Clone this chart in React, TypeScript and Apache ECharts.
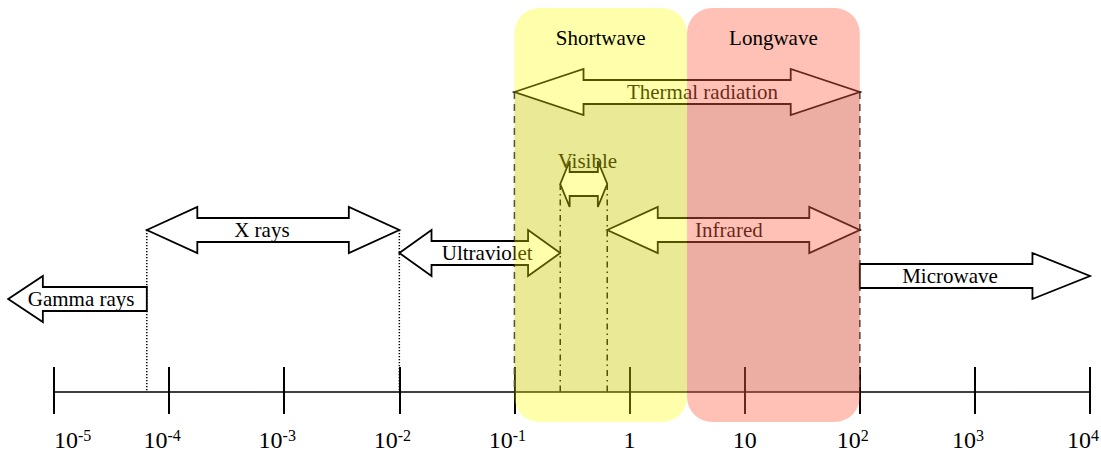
import React, { useEffect, useRef } from 'react';
import * as echarts from 'echarts';

// ---- data (wavelength in micrometres, log scale) ----
const axisMin = 1e-5;
const axisMax = 1e4;

const arrowNames = ['Gamma rays', 'X rays', 'Ultraviolet', 'Visible', 'Infrared', 'Thermal radiation', 'Microwave'];
const arrowFrom = [4e-6, 6.4e-5, 1e-2, 0.25, 0.64, 0.1, 100];
const arrowTo = [6.4e-5, 1e-2, 0.25, 0.64, 100, 100, 1e4];
const arrowRow = [93, 162, 139, 208, 162, 300, 116];
const arrowKind = ['left', 'both', 'both', 'both', 'both', 'both', 'right'];
const labelAtX = [1.72e-5, 6.4e-4, 0.058, 0.43, 7.3, 4.3, 608];
const labelAtY = [93, 162, 139, 231, 162, 300, 116];

const guideX = [6.4e-5, 1e-2, 0.25, 0.64, 0.1, 100];
const guideTop = [162, 162, 208, 208, 300, 300];
const guideKind = ['dotted', 'dotted', 'dashdot', 'dashdot', 'dashed', 'dashed'];

const thermalZone = [0.1, 100, 300];

const bandNames = ['Shortwave', 'Longwave'];
const bandFrom = [0.1, 3.16];
const bandTo = [3.16, 100];

// ---- layout / style constants ----
const BAND_TOP = 384;
const BAND_BOTTOM = -30;
const HEADER_ROW = 354;
const SHAFT = 12;
const HEAD = 23;
const FONT = '"Liberation Serif", "Times New Roman", serif';
const bandColors = ['rgba(255,255,0,0.33)', 'rgba(255,99,71,0.4)'];
const dashes: Record<string, number[]> = {
  dotted: [1.2, 1.8],
  dashdot: [6, 4, 1.5, 4],
  dashed: [7, 5],
};

function arrowPoints(kind: string, x1: number, x2: number, c: number) {
  const L = x2 - x1;
  if (kind === 'both') {
    const h = 0.2 * L;
    return [
      [x1, c], [x1 + h, c - HEAD], [x1 + h, c - SHAFT], [x2 - h, c - SHAFT], [x2 - h, c - HEAD],
      [x2, c], [x2 - h, c + HEAD], [x2 - h, c + SHAFT], [x1 + h, c + SHAFT], [x1 + h, c + HEAD],
    ];
  }
  const h = 0.25 * L;
  if (kind === 'left') {
    return [
      [x1, c], [x1 + h, c - HEAD], [x1 + h, c - SHAFT], [x2, c - SHAFT],
      [x2, c + SHAFT], [x1 + h, c + SHAFT], [x1 + h, c + HEAD],
    ];
  }
  return [
    [x1, c - SHAFT], [x2 - h, c - SHAFT], [x2 - h, c - HEAD], [x2, c],
    [x2 - h, c + HEAD], [x2 - h, c + SHAFT], [x1, c + SHAFT],
  ];
}

function tickLabel(v: number) {
  const e = Math.round(Math.log10(v));
  if (e === 0) return '{b|1}';
  if (e === 1) return '{b|10}';
  return `{b|10}{s|${e}}`;
}

const baseAxis = {
  type: 'log',
  logBase: 10,
  min: axisMin,
  max: axisMax,
  splitNumber: 9,
  splitLine: { show: false },
  minorTick: { show: false },
};

const gridBox = { left: 54, right: 11, top: 0, bottom: 63, containLabel: false, outerBoundsMode: 'none' };

const option: any = {
  animation: false,
  backgroundColor: '#ffffff',
  grid: [{ ...gridBox }, { ...gridBox }],
  xAxis: [
    {
      ...baseAxis,
      gridIndex: 0,
      axisLine: { show: true, lineStyle: { color: '#000', width: 1.5 } },
      axisTick: { show: true, length: 22, lineStyle: { color: '#000', width: 2 } },
      axisLabel: {
        show: true,
        margin: 35,
        color: '#000',
        fontFamily: FONT,
        alignMinLabel: 'left',
        showMinLabel: true,
        showMaxLabel: true,
        formatter: tickLabel,
        rich: {
          b: { fontSize: 24, fontFamily: FONT, color: '#000', lineHeight: 26 },
          s: { fontSize: 16, fontFamily: FONT, color: '#000', verticalAlign: 'top', lineHeight: 12, padding: [0, 14, 0, 0] },
        },
      },
    },
    {
      ...baseAxis,
      gridIndex: 1,
      axisLine: { show: false },
      axisTick: { show: true, inside: true, length: 25, lineStyle: { color: '#000', width: 2 } },
      axisLabel: { show: false },
    },
  ],
  yAxis: [
    { type: 'value', min: 0, max: 392, show: false, gridIndex: 0 },
    { type: 'value', min: 0, max: 392, show: false, gridIndex: 1 },
  ],
  series: [
    {
      type: 'custom',
      name: 'thermalZone',
      z: 1,
      data: [thermalZone],
      renderItem: (params: any, api: any) => {
        const p1 = api.coord([api.value(0), api.value(2)]);
        const p2 = api.coord([api.value(1), 0]);
        return {
          type: 'rect',
          shape: { x: p1[0], y: p1[1], width: p2[0] - p1[0], height: p2[1] - p1[1] },
          style: { fill: 'rgba(0,0,0,0.12)' },
        };
      },
    },
    {
      type: 'custom',
      name: 'guides',
      z: 2,
      data: guideX.map((x, i) => [x, guideTop[i]]),
      renderItem: (params: any, api: any) => {
        const i = params.dataIndex;
        const p1 = api.coord([api.value(0), api.value(1)]);
        const p2 = api.coord([api.value(0), 0]);
        return {
          type: 'line',
          shape: { x1: p1[0], y1: p1[1], x2: p2[0], y2: p2[1] },
          style: { stroke: guideKind[i] === 'dashed' ? '#333' : '#000', lineWidth: 1.5, lineDash: dashes[guideKind[i]] },
        };
      },
    },
    {
      type: 'custom',
      name: 'arrows',
      z: 3,
      data: arrowFrom.map((f, i) => [f, arrowTo[i], arrowRow[i], labelAtX[i], labelAtY[i]]),
      renderItem: (params: any, api: any) => {
        const i = params.dataIndex;
        const a = api.coord([api.value(0), api.value(2)]);
        const b = api.coord([api.value(1), api.value(2)]);
        const t = api.coord([api.value(3), api.value(4)]);
        return {
          type: 'group',
          children: [
            {
              type: 'polygon',
              shape: { points: arrowPoints(arrowKind[i], a[0], b[0], a[1]) },
              style: { fill: '#fff', stroke: '#000', lineWidth: 1.8, lineJoin: 'miter' },
            },
            {
              type: 'text',
              x: t[0],
              y: t[1],
              style: {
                text: arrowNames[i],
                fill: '#000',
                fontSize: 21,
                fontFamily: FONT,
                align: 'center',
                verticalAlign: 'middle',
              },
            },
          ],
        };
      },
    },
    {
      type: 'custom',
      name: 'bands',
      z: 4,
      data: bandFrom.map((f, i) => [f, bandTo[i]]),
      renderItem: (params: any, api: any) => {
        const i = params.dataIndex;
        const p1 = api.coord([api.value(0), BAND_TOP]);
        const p2 = api.coord([api.value(1), BAND_BOTTOM]);
        const hy = api.coord([api.value(0), HEADER_ROW])[1];
        return {
          type: 'group',
          children: [
            {
              type: 'rect',
              shape: { x: p1[0], y: p1[1], width: p2[0] - p1[0], height: p2[1] - p1[1], r: 25 },
              style: { fill: bandColors[i] },
            },
            {
              type: 'text',
              x: (p1[0] + p2[0]) / 2,
              y: hy,
              style: {
                text: bandNames[i],
                fill: '#000',
                fontSize: 21,
                fontFamily: FONT,
                align: 'center',
                verticalAlign: 'middle',
              },
            },
          ],
        };
      },
    },
  ],
};

export default function App() {
  const ref = useRef<HTMLDivElement>(null);
  useEffect(() => {
    const chart = echarts.init(ref.current as HTMLDivElement, undefined, { renderer: 'svg' });
    chart.setOption(option);
    return () => chart.dispose();
  }, []);
  return <div ref={ref} style={{ position: 'fixed', left: 0, top: 0, width: 1101, height: 455 }} />;
}
